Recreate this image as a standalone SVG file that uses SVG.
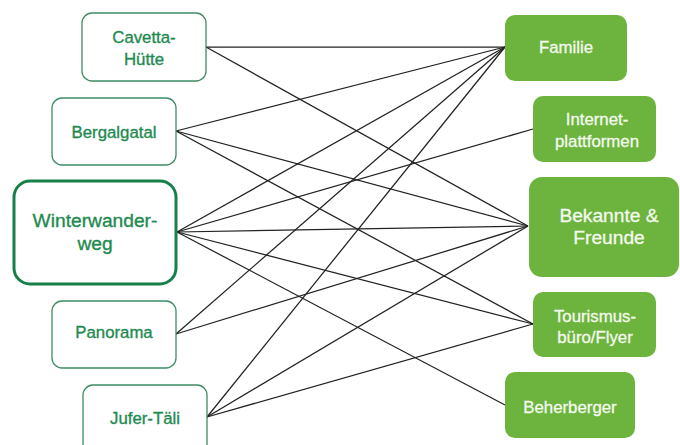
<svg xmlns="http://www.w3.org/2000/svg" width="680" height="445" viewBox="0 0 680 445">
  <style>
    .src rect { fill: #ffffff; stroke: #3f8c64; stroke-width: 1.3; }
    .src text, .main text { fill: #1f8a50; stroke: #1f8a50; stroke-width: 0.35; }
    .main rect { fill: #ffffff; stroke: #17804a; stroke-width: 3; }
    .dst rect { fill: #6db43f; stroke: none; }
    .dst text { fill: #f4faee; stroke: #f4faee; stroke-width: 0.3; }
    text { font-family: "Liberation Sans", Arial, sans-serif; font-size: 16.8px; text-anchor: middle; }
    .big { font-size: 19.2px; }
    .links line { stroke: #222222; stroke-width: 1.25; }
  </style>
  <rect width="680" height="445" fill="#ffffff"/>

  <!-- connectors from activities (left) to information sources (right) -->
  <g id="connectors" class="links">
    <!-- Cavetta-Hütte -->
    <line x1="206" y1="47" x2="505" y2="47"/>
    <line x1="206" y1="47" x2="528" y2="226"/>
    <!-- Bergalgatal -->
    <line x1="176" y1="131" x2="505" y2="47"/>
    <line x1="176" y1="131" x2="528" y2="226"/>
    <line x1="176" y1="131" x2="533" y2="324"/>
    <!-- Winterwanderweg -->
    <line x1="177" y1="232" x2="505" y2="47"/>
    <line x1="177" y1="232" x2="533" y2="129"/>
    <line x1="177" y1="232" x2="528" y2="226"/>
    <line x1="177" y1="232" x2="533" y2="324"/>
    <line x1="177" y1="232" x2="505" y2="405"/>
    <!-- Panorama -->
    <line x1="176" y1="334" x2="505" y2="47"/>
    <line x1="176" y1="334" x2="528" y2="226"/>
    <!-- Jufer-Täli -->
    <line x1="207" y1="417" x2="505" y2="47"/>
    <line x1="207" y1="417" x2="528" y2="226"/>
    <line x1="207" y1="417" x2="533" y2="324"/>
  </g>

  <!-- activities -->
  <g id="cavetta-huette" class="src">
    <rect x="82" y="13" width="124" height="68" rx="10"/>
    <text x="144" y="43">Cavetta-</text>
    <text x="144" y="65">Hütte</text>
  </g>
  <g id="bergalgatal" class="src">
    <rect x="52" y="98" width="124" height="67" rx="10"/>
    <text x="114" y="138">Bergalgatal</text>
  </g>
  <g id="winterwanderweg" class="main">
    <rect x="14" y="181" width="162" height="103" rx="16"/>
    <text class="big" x="95" y="227">Winterwander-</text>
    <text class="big" x="95" y="250">weg</text>
  </g>
  <g id="panorama" class="src">
    <rect x="52" y="301" width="124" height="67" rx="10"/>
    <text x="114" y="338">Panorama</text>
  </g>
  <g id="jufer-taeli" class="src">
    <rect x="83" y="385" width="124" height="70" rx="10"/>
    <text x="145" y="424">Jufer-Täli</text>
  </g>

  <!-- information sources -->
  <g id="familie" class="dst">
    <rect x="505" y="15" width="122" height="66" rx="10"/>
    <text x="566" y="53">Familie</text>
  </g>
  <g id="internetplattformen" class="dst">
    <rect x="533" y="96" width="123" height="66" rx="10"/>
    <text x="597" y="125">Internet-</text>
    <text x="597" y="147">plattformen</text>
  </g>
  <g id="bekannte-freunde" class="dst">
    <rect x="529" y="177" width="150" height="100" rx="13"/>
    <text class="big" x="609" y="222">Bekannte &amp;</text>
    <text class="big" x="609" y="244">Freunde</text>
  </g>
  <g id="tourismusbuero" class="dst">
    <rect x="533" y="292" width="123" height="65" rx="10"/>
    <text x="595" y="322">Tourismus-</text>
    <text x="595" y="343">büro/Flyer</text>
  </g>
  <g id="beherberger" class="dst">
    <rect x="505" y="372" width="130" height="66" rx="10"/>
    <text x="570" y="413">Beherberger</text>
  </g>
</svg>
